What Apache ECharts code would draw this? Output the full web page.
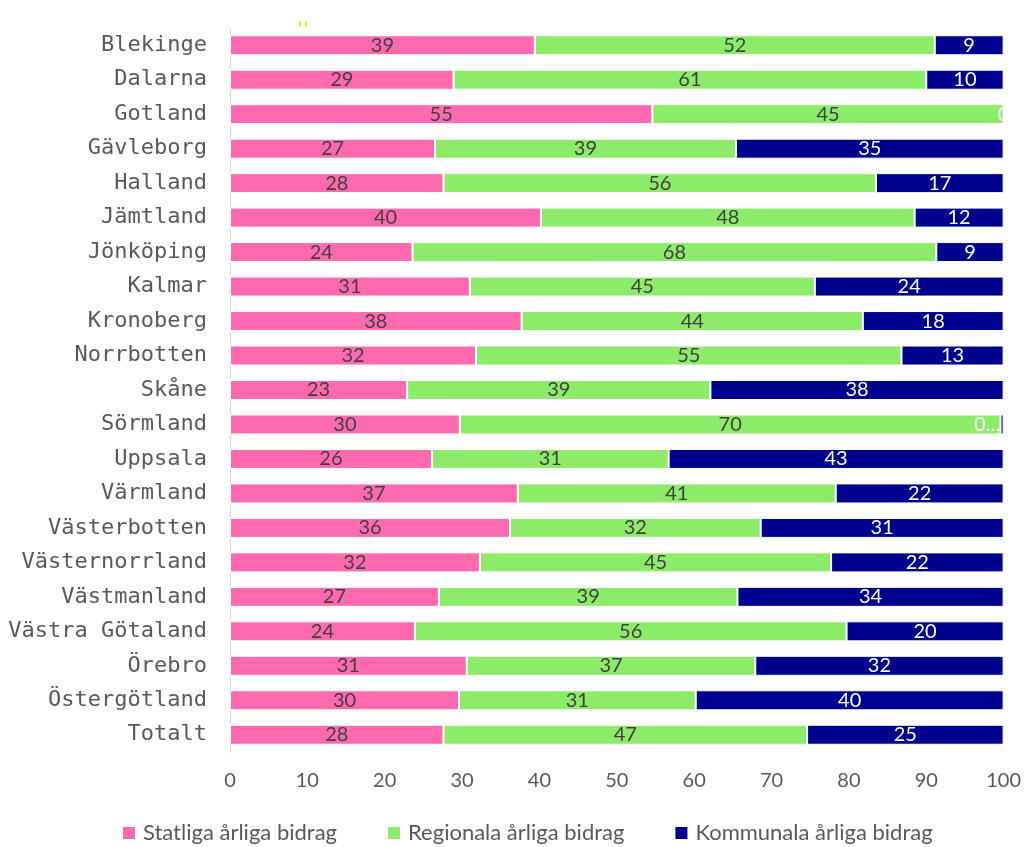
<!DOCTYPE html>
<html><head><meta charset="utf-8">
<script src="https://cdn.jsdelivr.net/npm/echarts@6/dist/echarts.min.js"></script>
<style>html,body{margin:0;padding:0;background:#fff}#c{width:1024px;height:847px}</style>
</head><body><div id="c"></div>
<script>
const categories = ["Blekinge","Dalarna","Gotland","Gävleborg","Halland","Jämtland","Jönköping","Kalmar","Kronoberg","Norrbotten","Skåne","Sörmland","Uppsala","Värmland","Västerbotten","Västernorrland","Västmanland","Västra Götaland","Örebro","Östergötland","Totalt"];
const statliga =  [39.4,28.9,54.6,26.5,27.6,40.2,23.6,31.0,37.7,31.8,22.9,29.7,26.1,37.2,36.2,32.3,27.0,23.9,30.6,29.6,27.6];
const regionala = [51.7,61.1,45.4,38.9,55.9,48.3,67.7,44.6,44.1,55.0,39.2,69.9,30.6,41.1,32.4,45.4,38.6,55.8,37.3,30.6,47.0];
const kommunala = [8.9,10.0,0.0,34.6,16.5,11.5,8.7,24.4,18.2,13.2,37.9,0.4,43.3,21.7,31.4,22.3,34.4,20.3,32.1,39.8,25.4];
const seriesNames = ["Statliga årliga bidrag","Regionala årliga bidrag","Kommunala årliga bidrag"];
const colors = ["#ff69b0","#8cec6a","#00008f"];
const xTicks = [0,10,20,30,40,50,60,70,80,90,100];

const labelFmt = p => {
  const v = p.value;
  if (v > 0 && v < 1) return '0…';
  return String(Math.round(v));
};
const chart = echarts.init(document.getElementById('c'));
const dataSets = [statliga, regionala, kommunala];
chart.setOption({
  animation:false,
  grid:{left:230,right:20,top:28,bottom:95,containLabel:false},
  xAxis:{type:'value',min:0,max:100,interval:10,
    axisLine:{show:false},axisTick:{show:false},splitLine:{show:false},
    axisLabel:{color:'#595959',fontSize:20,fontFamily:'Lato, sans-serif',margin:19,
      formatter:v=>xTicks.includes(v)?String(v):''}},
  yAxis:{type:'category',data:categories,inverse:true,
    axisLine:{show:true,lineStyle:{color:'#d9d9d9',width:1}},axisTick:{show:false},
    axisLabel:{color:'#595959',fontSize:22,fontFamily:'"DejaVu Sans Mono", monospace',margin:23}},
  legend:{top:822,left:121,padding:0,itemWidth:14,itemHeight:14,itemGap:49,icon:'rect',
    textStyle:{color:'#595959',fontSize:22,fontFamily:'Lato, sans-serif',padding:[0,0,0,2]},
    data:seriesNames},
  graphic:[{type:'text',left:297,top:20,style:{text:'\'\'',fill:'#f5f500',fontSize:22,fontFamily:'DejaVu Sans'}}],
  series:dataSets.map((d,i)=>({
    name:seriesNames[i],type:'bar',stack:'total',barWidth:'58%',
    data:d.map(v=>(v>0&&v<1)?{value:v,label:{position:'left',distance:0}}:v),
    itemStyle:{color:colors[i],borderColor:'#ffffff',borderWidth:1},
    label:{show:true,position:'inside',formatter:labelFmt,fontSize:20,fontFamily:'Lato, sans-serif',
      color:i===2?'#ffffff':'#404040'}
  }))
});
</script></body></html>
